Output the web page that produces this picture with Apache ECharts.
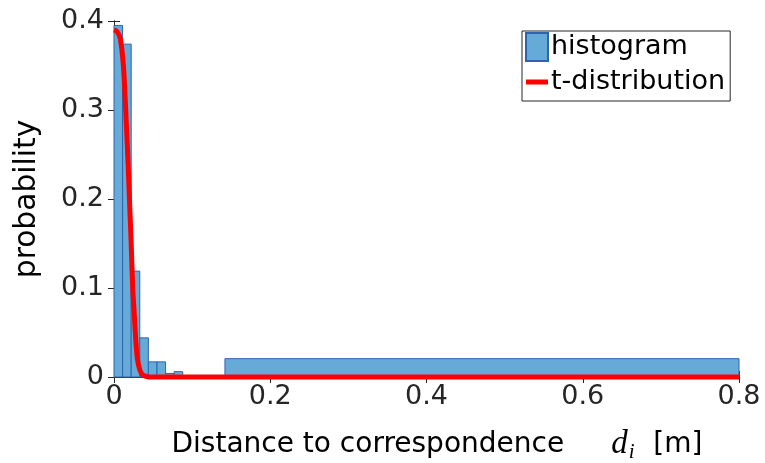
<!DOCTYPE html>
<html>
<head>
<meta charset="utf-8">
<script src="https://cdn.jsdelivr.net/npm/echarts@6/dist/echarts.min.js"></script>
<style>
  html, body { margin: 0; padding: 0; background: #fff; }
  #chart { width: 765px; height: 463px; }
</style>
</head>
<body>
<div id="chart"></div>
<script>
// histogram bins (left edge, right edge, probability)
var binLeft  = [0, 0.011, 0.022, 0.033, 0.044, 0.055, 0.066, 0.077, 0.142];
var binRight = [0.011, 0.022, 0.033, 0.044, 0.055, 0.066, 0.077, 0.088, 0.8];
var binProb  = [0.395, 0.374, 0.119, 0.044, 0.017, 0.017, 0.004, 0.006, 0.0206];

// fitted t-distribution
var tX = [0, 0.004, 0.008, 0.012, 0.015, 0.018, 0.020, 0.022, 0.024, 0.026, 0.028, 0.030, 0.033, 0.036, 0.040, 0.045, 0.1, 0.2, 0.4, 0.6, 0.8];
var tY = [0.39, 0.388, 0.38, 0.35, 0.30, 0.24, 0.195, 0.15, 0.10, 0.07, 0.04, 0.02, 0.008, 0.003, 0.001, 0, 0, 0, 0, 0, 0];

var axisColor = '#262626';
var font = 'DejaVu Sans';
var tickSize = 27;
var labelSize = 29.7; // matlab labels are 1.1x tick font

var histData = binLeft.map(function (l, i) { return [l, binRight[i], binProb[i]]; });
var lineData = tX.map(function (x, i) { return [x, tY[i]]; });

var chart = echarts.init(document.getElementById('chart'));

var option = {
  animation: false,
  backgroundColor: '#fff',
  grid: { left: 114, right: 26, top: 21, bottom: 86, outerBoundsMode: 'none', containLabel: false },
  legend: {
    left: 522, top: 31,
    orient: 'vertical',
    backgroundColor: '#fff',
    borderColor: axisColor, borderWidth: 1,
    padding: [1, 5, 5, 3],
    itemWidth: 22, itemHeight: 28, itemGap: 6,
    textStyle: { fontFamily: font, fontSize: tickSize, color: '#000', padding: [0, 0, 0, -2] },
    data: [
      { name: 'histogram', icon: 'rect' },
      { name: 't-distribution', icon: 'path://M0,0M22,28M0,11.5L22,11.5L22,16.5L0,16.5Z' }
    ]
  },
  xAxis: [{
    type: 'value', min: 0, max: 0.8, interval: 0.2,
    position: 'bottom',
    axisLine: { show: true, lineStyle: { color: axisColor } },
    axisTick: { show: true, inside: true, length: 6, lineStyle: { color: axisColor } },
    axisLabel: { fontFamily: font, fontSize: tickSize, color: axisColor, margin: 6 },
    splitLine: { show: false },
    name: 'Distance to correspondence{m|d}{s|i} [m]',
    nameLocation: 'middle',
    nameGap: 49,
    nameTextStyle: {
      fontFamily: font, fontSize: 28, color: '#000', padding: [0, 0, 0, 21],
      rich: {
        m: { fontFamily: 'Liberation Serif', fontStyle: 'italic', fontSize: 33, color: '#000', padding: [0, 0, 0, 47] },
        s: { fontFamily: 'Liberation Serif', fontStyle: 'italic', fontSize: 21, color: '#000', padding: [16, 10, 0, 1] }
      }
    }
  }, {
    type: 'value', min: 0, max: 0.8, interval: 0.2,
    position: 'top',
    axisLine: { show: true, lineStyle: { color: axisColor } },
    axisTick: { show: true, inside: true, length: 6, lineStyle: { color: axisColor } },
    axisLabel: { show: false },
    splitLine: { show: false }
  }],
  yAxis: [{
    type: 'value', min: 0, max: 0.4, interval: 0.1,
    position: 'left',
    axisLine: { show: true, lineStyle: { color: axisColor } },
    axisTick: { show: true, inside: true, length: 6, lineStyle: { color: axisColor } },
    axisLabel: { fontFamily: font, fontSize: tickSize, color: axisColor, margin: 10 },
    splitLine: { show: false },
    name: 'probability',
    nameLocation: 'middle',
    nameGap: 72,
    nameTextStyle: { fontFamily: font, fontSize: labelSize, color: '#000' }
  }, {
    type: 'value', min: 0, max: 0.4, interval: 0.1,
    position: 'right',
    axisLine: { show: true, lineStyle: { color: axisColor } },
    axisTick: { show: true, inside: true, length: 6, lineStyle: { color: axisColor } },
    axisLabel: { show: false },
    splitLine: { show: false }
  }],
  series: [{
    name: 'histogram',
    type: 'custom',
    xAxisIndex: 0, yAxisIndex: 0,
    itemStyle: { color: '#66aad7', borderColor: '#2e64ae', borderWidth: 1 },
    encode: { x: [0, 1], y: 2 },
    data: histData,
    renderItem: function (params, api) {
      var p0 = api.coord([api.value(0), api.value(2)]);
      var p1 = api.coord([api.value(1), 0]);
      return {
        type: 'rect',
        shape: { x: p0[0], y: p0[1], width: p1[0] - p0[0], height: p1[1] - p0[1] },
        style: { fill: '#66aad7', stroke: '#2e64ae', lineWidth: 1 }
      };
    }
  }, {
    name: 't-distribution',
    type: 'line',
    xAxisIndex: 0, yAxisIndex: 0,
    data: lineData,
    smooth: 0.3,
    symbol: 'none',
    clip: false,
    z: 5,
    lineStyle: { color: '#ff0000', width: 5 },
    itemStyle: { color: '#ff0000' }
  }]
};

chart.setOption(option);
</script>
</body>
</html>
